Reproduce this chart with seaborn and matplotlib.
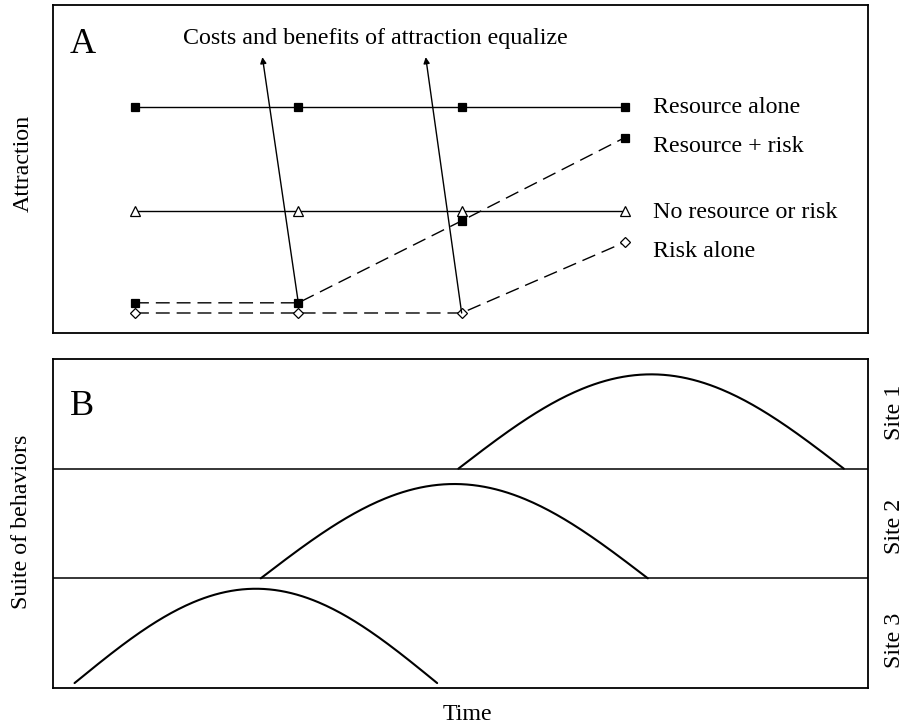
import numpy as np
import pandas as pd
import matplotlib
matplotlib.use("Agg")
import matplotlib.pyplot as plt
import seaborn as sns

sns.set_style("white")
plt.rcParams["font.family"] = ["Liberation Serif", "DejaVu Serif"]
plt.rcParams["text.color"] = "black"

# ---- Panel A: attraction at four time points ----
time_points = [1, 2, 3, 4]
resource_alone = [6.9, 6.9, 6.9, 6.9]
resource_risk = [0.92, 0.92, 3.42, 5.96]
no_resource_risk = [3.72, 3.72, 3.72, 3.72]
risk_alone = [0.61, 0.61, 0.61, 2.77]

series_names = ["Resource alone", "Resource + risk", "No resource or risk", "Risk alone"]
series_values = [resource_alone, resource_risk, no_resource_risk, risk_alone]
series_markers = ["s", "s", "^", "D"]
series_filled = [True, True, False, False]
series_dashed = [False, True, False, True]

# arrows: from a data point up to the annotation text
arrow_from_t = [2, 3]
arrow_from_y = [resource_risk[1], risk_alone[2]]
arrow_to_t = [1.78, 2.78]
arrow_to_y = [8.41, 8.41]

# ---- Panel B: behaviour hump at each site ----
site_labels = ["Site 1", "Site 2", "Site 3"]
site_base = [2.0, 1.0, 0.045]
site_onset = [2.98, 1.77, 0.63]
site_offset = [5.34, 4.14, 2.85]
site_peak = [0.86, 0.86, 0.86]

W, H = 909, 728
fig = plt.figure(figsize=(W / 100, H / 100), dpi=100)

def px_axes(left, top, right, bottom):
    return fig.add_axes([left / W, 1 - bottom / H, (right - left) / W, (bottom - top) / H])

axA = px_axes(53, 5, 868, 333)
axB = px_axes(53, 359, 868, 688)

xlim = (0.498, 5.488)
frame_lw = 1.3
line_lw = 1.0
marker_size = {"s": 6.2, "^": 7.0, "D": 5.6}

# Panel A lines
for name, vals, mk, filled, dashed in zip(series_names, series_values, series_markers,
                                          series_filled, series_dashed):
    df = pd.DataFrame({"time": time_points, "attraction": vals})
    sns.lineplot(data=df, x="time", y="attraction", ax=axA, estimator=None, sort=False,
                 color="black", lw=line_lw, marker=mk, markersize=marker_size[mk],
                 markerfacecolor="black" if filled else "white",
                 markeredgecolor="black", markeredgewidth=0.9, zorder=3)
    line = axA.lines[-1]
    if dashed:
        line.set_linestyle((0, (10, 5)))

for t0, y0, t1, y1 in zip(arrow_from_t, arrow_from_y, arrow_to_t, arrow_to_y):
    axA.annotate("", xy=(t1, y1), xytext=(t0, y0),
                 arrowprops=dict(arrowstyle="-|>", color="black", lw=1.0,
                                 mutation_scale=9, shrinkA=0, shrinkB=0), zorder=4)

axA.text(2.47, 8.81, "Costs and benefits of attraction equalize", ha="center",
         va="baseline", fontsize=17.3)

label_y = [6.71, 5.52, 3.51, 2.32]
for name, ly in zip(series_names, label_y):
    axA.text(4.171, ly, name, ha="left", va="baseline", fontsize=17.3)

axA.text(0.021, 0.854, "A", transform=axA.transAxes, ha="left", va="baseline", fontsize=26)
axA.set_xlim(*xlim)
axA.set_ylim(0, 10)

# Panel B humps
for base, on, off, pk in zip(site_base, site_onset, site_offset, site_peak):
    t = np.linspace(on, off, 200)
    y = base + pk * np.sin(np.pi * (t - on) / (off - on))
    sns.lineplot(x=t, y=y, ax=axB, estimator=None, sort=False, color="black", lw=1.5)

for base in site_base[:2]:
    axB.axhline(base, color="black", lw=1.1)

axB.text(0.021, 0.83, "B", transform=axB.transAxes, ha="left", va="baseline", fontsize=26)
axB.set_xlim(*xlim)
axB.set_ylim(0, 3)

for ax in (axA, axB):
    ax.set_xticks([])
    ax.set_yticks([])
    ax.set_xlabel("")
    ax.set_ylabel("")
    for sp in ax.spines.values():
        sp.set_visible(True)
        sp.set_color("black")
        sp.set_linewidth(frame_lw)

# Axis titles and site labels
fig.text(23 / W, 1 - 163 / H, "Attraction", rotation=90, ha="center", va="center", fontsize=17.3)
fig.text(22 / W, 1 - 522 / H, "Suite of behaviors", rotation=90, ha="center", va="center",
         fontsize=17.3)
fig.text(467 / W, 1 - 715 / H, "Time", ha="center", va="center", fontsize=17.3)
for lab, yc in zip(site_labels, [412, 526, 640]):
    fig.text(895 / W, 1 - yc / H, lab, rotation=90, ha="center", va="center", fontsize=17.3)

fig.savefig("out.png", dpi=100, facecolor="white")
